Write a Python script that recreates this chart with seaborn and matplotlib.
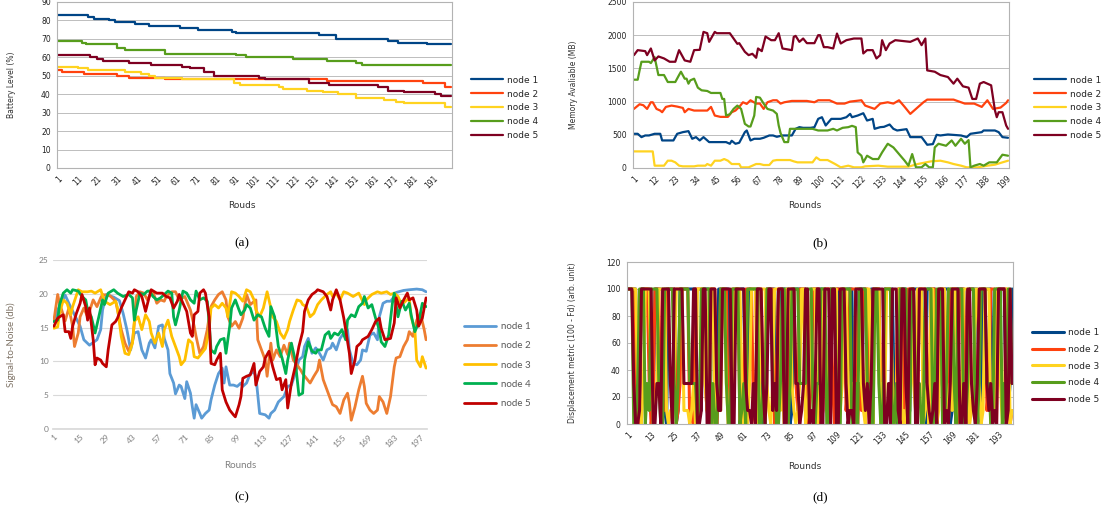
import numpy as np
import pandas as pd
import matplotlib
matplotlib.use('Agg')
import matplotlib.pyplot as plt
from matplotlib.ticker import MultipleLocator, FixedLocator
import seaborn as sns

nodes = ['node 1', 'node 2', 'node 3', 'node 4', 'node 5']

# (a) battery level: (round, level) at every round where the level steps down
battery_node1 = [(1, 83), (16, 82), (19, 81), (27, 80), (30, 79), (40, 78), (47, 77), (63, 76),
                 (72, 75), (89, 74), (91, 73), (133, 72), (142, 70), (168, 69), (173, 68),
                 (188, 67), (200, 67)]
battery_node2 = [(1, 53), (3, 52), (14, 51), (31, 50), (37, 49), (55, 48), (137, 47), (186, 46),
                 (197, 44), (200, 44)]
battery_node3 = [(1, 55), (11, 54), (16, 53), (35, 52), (43, 51), (47, 50), (50, 49), (64, 48),
                 (90, 46), (93, 45), (113, 44), (115, 43), (127, 42), (135, 41), (143, 40),
                 (152, 38), (166, 37), (172, 36), (176, 35), (197, 33), (200, 33)]
battery_node4 = [(1, 69), (13, 68), (15, 67), (31, 65), (35, 64), (55, 62), (91, 61), (96, 60),
                 (120, 59), (137, 58), (152, 57), (155, 56), (200, 56)]
battery_node5 = [(1, 61), (17, 60), (21, 59), (24, 58), (37, 57), (48, 56), (64, 55), (68, 54),
                 (75, 52), (80, 50), (103, 49), (106, 48), (128, 46), (138, 45), (163, 44),
                 (168, 42), (176, 41), (192, 40), (195, 39), (200, 39)]

# (b) memory available (MB)
mem_rounds1 = [1, 3, 5, 7, 9, 12, 15, 16, 22, 24,
               27, 30, 32, 34, 36, 38, 41, 45, 50, 52,
               53, 55, 57, 60, 61, 63, 65, 68, 70, 73,
               75, 77, 80, 85, 87, 89, 91, 95, 97, 99,
               101, 103, 106, 111, 114, 116, 117, 120, 123, 125,
               128, 129, 132, 134, 137, 139, 141, 146, 148, 154,
               157, 160, 162, 164, 168, 175, 178, 180, 186, 187,
               193, 195, 197, 200]
mem_node1 = [515, 515, 465, 490, 490, 515, 515, 415, 415, 515,
             540, 555, 440, 465, 415, 465, 390, 390, 390, 365,
             410, 365, 380, 540, 565, 415, 440, 440, 455, 490,
             490, 470, 490, 490, 590, 615, 605, 605, 615, 740,
             765, 640, 740, 740, 765, 815, 765, 790, 825, 715,
             740, 590, 615, 620, 655, 590, 565, 585, 465, 465,
             350, 360, 500, 490, 505, 490, 465, 515, 540, 565,
             565, 540, 465, 455]
mem_rounds2 = [1, 4, 6, 8, 10, 11, 13, 15, 16, 18,
               21, 24, 27, 28, 30, 33, 40, 42, 44, 47,
               51, 53, 55, 57, 59, 61, 63, 66, 68, 70,
               72, 75, 77, 79, 81, 85, 93, 97, 99, 105,
               109, 113, 116, 122, 124, 129, 132, 136, 139, 142,
               145, 148, 151, 155, 157, 171, 177, 182, 186, 189,
               192, 196, 199, 200]
mem_node2 = [890, 960, 945, 890, 990, 990, 890, 865, 840, 920,
             940, 925, 905, 840, 890, 865, 865, 920, 790, 770,
             770, 840, 865, 920, 990, 965, 1020, 970, 970, 890,
             990, 1020, 1020, 970, 990, 1010, 1010, 990, 1020, 1020,
             970, 970, 1000, 1020, 940, 890, 970, 990, 970, 1020,
             920, 815, 890, 990, 1030, 1030, 970, 970, 920, 1020,
             890, 910, 980, 1020]
mem_rounds3 = [1, 11, 12, 17, 19, 21, 23, 25, 27, 33,
               35, 39, 40, 42, 44, 47, 49, 51, 53, 57,
               58, 62, 64, 66, 68, 70, 73, 75, 77, 84,
               86, 88, 96, 98, 100, 104, 108, 111, 115, 118,
               122, 124, 131, 136, 147, 152, 159, 164, 168, 171,
               175, 178, 184, 189, 193, 197, 200]
mem_node3 = [250, 250, 35, 35, 110, 110, 85, 35, 25, 25,
             35, 35, 60, 35, 110, 110, 135, 110, 60, 60,
             10, 10, 35, 60, 60, 45, 45, 110, 120, 120,
             100, 85, 85, 160, 120, 120, 60, 10, 35, 10,
             10, 25, 35, 20, 20, 60, 100, 110, 85, 60,
             35, 10, 10, 35, 50, 85, 110]
mem_rounds4 = [1, 3, 4, 5, 9, 10, 12, 14, 17, 19,
               23, 25, 26, 28, 29, 30, 31, 33, 35, 37,
               40, 42, 47, 48, 49, 50, 52, 54, 56, 58,
               60, 62, 63, 65, 66, 68, 70, 72, 75, 77,
               78, 79, 81, 83, 84, 96, 99, 104, 107, 109,
               112, 115, 117, 119, 120, 122, 123, 125, 128, 131,
               133, 136, 139, 142, 145, 147, 149, 151, 154, 156,
               158, 160, 161, 163, 167, 170, 172, 175, 177, 179,
               180, 182, 185, 187, 190, 194, 197, 200]
mem_node4 = [1330, 1330, 1470, 1600, 1600, 1580, 1670, 1400, 1400, 1295,
             1295, 1400, 1450, 1345, 1345, 1270, 1320, 1345, 1210, 1170,
             1160, 1130, 1130, 1040, 1040, 790, 810, 890, 940, 890,
             665, 625, 625, 790, 1070, 1060, 970, 890, 865, 815,
             640, 525, 390, 390, 590, 590, 565, 565, 590, 565,
             605, 615, 635, 615, 235, 185, 85, 185, 135, 135,
             235, 365, 310, 210, 110, 35, 210, 10, 10, 60,
             10, 10, 310, 365, 335, 415, 335, 440, 365, 420,
             10, 35, 60, 35, 85, 85, 200, 185]
mem_rounds5 = [1, 3, 7, 8, 10, 12, 14, 17, 20, 23,
               25, 28, 31, 33, 36, 38, 40, 41, 44, 45,
               52, 54, 56, 57, 60, 62, 64, 66, 67, 69,
               71, 74, 76, 78, 80, 85, 86, 87, 89, 91,
               93, 97, 99, 100, 102, 104, 107, 109, 111, 114,
               118, 122, 123, 125, 128, 130, 132, 133, 135, 137,
               140, 148, 152, 154, 156, 157, 161, 164, 168, 171,
               173, 176, 179, 181, 183, 185, 187, 191, 193, 194,
               195, 197, 199, 200]
mem_node5 = [1700, 1775, 1760, 1700, 1800, 1620, 1680, 1650, 1600, 1600,
             1775, 1620, 1600, 1775, 1780, 2050, 2030, 1900, 2050, 2030,
             2030, 1950, 1870, 1880, 1750, 1700, 1720, 1660, 1800, 1760,
             1980, 1925, 1925, 2030, 1800, 1775, 1975, 1990, 1900, 1950,
             1880, 1880, 2000, 2000, 1820, 1820, 1800, 2025, 1875, 1925,
             1950, 1950, 1725, 1775, 1775, 1650, 1700, 1925, 1775, 1875,
             1925, 1900, 1950, 1850, 1950, 1470, 1450, 1400, 1370, 1270,
             1345, 1230, 1210, 1040, 1040, 1270, 1295, 1245, 870, 765,
             840, 840, 640, 590]

# (c) signal-to-noise (db): (round, value)
snr_node1 = [(1, 15.9), (3, 17.6), (7, 19.8), (10, 18.0), (15, 15.2), (17, 13.2), (20, 12.4), (24, 13.2), (26, 14.7), (27, 17.6),
             (29, 19.9), (33, 19.5), (36, 19.0), (38, 17.1), (40, 14.7), (42, 11.7), (44, 14.2), (46, 14.4), (48, 11.7), (50, 10.5),
             (52, 12.7), (53, 13.2), (55, 12.0), (57, 15.2), (59, 15.4), (60, 13.4), (62, 11.7), (63, 8.2), (65, 6.8), (66, 5.2),
             (68, 6.5), (69, 6.3), (71, 4.5), (72, 7.0), (74, 5.3), (75, 3.3), (76, 1.6), (77, 3.6), (79, 2.3), (80, 1.6),
             (82, 2.3), (84, 2.8), (85, 4.3), (87, 6.5), (89, 8.2), (91, 9.0), (92, 6.8), (93, 9.2), (95, 6.5), (97, 6.5),
             (99, 6.3), (101, 6.8), (102, 6.3), (104, 6.8), (106, 8.2), (108, 8.4), (109, 7.8), (111, 2.3), (114, 2.1), (116, 1.6),
             (117, 2.3), (119, 2.8), (121, 4.0), (124, 4.8), (126, 6.3), (128, 6.5), (130, 8.2), (132, 10.2), (134, 10.7), (135, 12.2),
             (137, 13.4), (139, 11.2), (141, 12.0), (143, 11.2), (145, 10.2), (147, 11.7), (149, 12.0), (150, 12.7), (152, 11.7), (154, 13.4),
             (156, 14.2), (158, 14.7), (159, 11.7), (161, 9.7), (163, 9.5), (165, 10.2), (166, 11.7), (168, 11.5), (170, 13.9), (172, 14.2),
             (174, 13.2), (175, 16.6), (177, 18.6), (179, 18.9), (181, 18.9), (183, 19.6), (184, 20.2), (188, 20.5), (191, 20.6), (195, 20.7),
             (198, 20.6), (200, 20.3)]
snr_node2 = [(1, 16.1), (3, 19.9), (4, 18.6), (7, 16.0), (9, 17.9), (11, 15.2), (12, 12.2), (14, 14.2), (15, 16.6), (17, 17.9),
             (19, 16.6), (22, 19.1), (24, 18.1), (26, 19.4), (27, 19.9), (31, 19.7), (34, 18.9), (35, 17.6), (37, 14.7), (39, 12.7),
             (41, 11.5), (43, 12.9), (44, 15.7), (45, 19.6), (47, 20.3), (49, 20.1), (51, 19.1), (52, 19.6), (54, 20.3), (56, 18.6),
             (58, 19.1), (60, 18.9), (61, 19.6), (64, 20.3), (66, 20.3), (68, 19.1), (71, 19.6), (74, 17.6), (76, 15.2), (77, 13.7),
             (79, 11.2), (81, 12.2), (83, 14.7), (84, 16.6), (85, 18.1), (87, 19.1), (89, 19.9), (91, 20.3), (93, 19.1), (94, 16.6),
             (96, 15.2), (98, 15.9), (100, 14.9), (102, 16.4), (104, 19.9), (106, 18.4), (109, 19.1), (110, 13.2), (112, 11.7), (114, 10.2),
             (115, 7.8), (117, 12.7), (118, 10.2), (120, 11.7), (122, 10.7), (124, 12.4), (126, 11.0), (127, 12.7), (129, 10.2), (131, 9.5),
             (133, 8.7), (134, 8.2), (136, 7.5), (138, 6.8), (140, 7.8), (142, 8.7), (143, 10.2), (145, 7.3), (147, 5.8), (149, 4.3),
             (150, 3.6), (152, 3.3), (154, 2.3), (156, 4.3), (158, 5.3), (159, 3.8), (160, 1.3), (162, 3.3), (164, 5.8), (166, 7.8),
             (167, 6.3), (168, 3.8), (170, 2.8), (172, 2.3), (174, 2.8), (175, 4.8), (177, 4.0), (179, 2.3), (181, 4.8), (183, 9.2),
             (184, 10.5), (186, 10.7), (188, 12.2), (190, 13.2), (191, 14.4), (193, 13.7), (195, 16.1), (197, 17.1), (199, 14.7), (200, 13.2)]
snr_node3 = [(1, 14.9), (3, 15.1), (4, 17.1), (6, 19.1), (8, 18.6), (10, 16.9), (11, 18.1), (14, 20.6), (16, 20.3), (19, 20.3),
             (21, 20.4), (23, 20.1), (26, 20.6), (28, 18.9), (31, 18.4), (34, 18.9), (35, 17.9), (37, 13.7), (39, 11.2), (41, 11.0),
             (43, 12.7), (44, 15.9), (46, 16.6), (48, 14.7), (50, 16.9), (52, 15.9), (53, 14.2), (55, 12.7), (57, 14.2), (59, 12.2),
             (60, 14.7), (62, 16.1), (64, 13.7), (66, 12.2), (68, 10.7), (69, 9.5), (71, 10.2), (73, 13.2), (75, 12.7), (76, 10.7),
             (78, 10.5), (80, 11.2), (82, 11.9), (84, 14.7), (85, 17.9), (87, 18.4), (89, 17.9), (91, 18.6), (93, 17.9), (94, 16.6),
             (96, 20.3), (98, 20.1), (100, 19.6), (102, 18.9), (104, 20.6), (106, 20.3), (108, 19.1), (109, 17.6), (111, 16.6), (113, 17.9),
             (115, 20.3), (117, 17.9), (118, 16.6), (120, 15.9), (122, 14.2), (124, 13.4), (126, 14.7), (127, 15.9), (129, 17.6), (131, 19.1),
             (133, 18.9), (134, 18.4), (136, 18.1), (138, 16.6), (140, 17.1), (142, 18.4), (144, 19.1), (147, 19.9), (149, 20.3), (150, 19.6),
             (152, 20.1), (154, 19.1), (156, 20.3), (158, 20.1), (161, 19.6), (164, 20.1), (167, 18.4), (168, 19.1), (171, 19.9), (174, 20.3),
             (176, 20.1), (179, 20.3), (181, 19.9), (183, 20.1), (185, 19.6), (187, 18.4), (189, 18.9), (191, 19.4), (192, 16.6), (194, 14.7),
             (195, 10.2), (197, 9.2), (198, 10.7), (200, 9.0)]
snr_node4 = [(1, 15.9), (3, 16.1), (4, 18.4), (6, 20.1), (8, 20.6), (10, 20.1), (11, 20.6), (14, 20.4), (16, 19.6), (18, 19.1),
             (19, 17.6), (21, 16.6), (23, 14.2), (25, 16.6), (27, 19.1), (28, 18.4), (30, 20.1), (33, 20.6), (35, 20.1), (38, 19.6),
             (41, 19.9), (43, 19.4), (44, 16.1), (45, 17.6), (47, 20.1), (49, 19.9), (51, 20.4), (52, 20.4), (54, 19.6), (56, 19.1),
             (58, 19.4), (60, 19.9), (62, 20.4), (64, 20.1), (65, 16.6), (66, 15.4), (68, 17.6), (70, 20.4), (72, 20.1), (74, 19.1),
             (76, 18.6), (77, 20.4), (79, 19.1), (81, 19.4), (83, 18.9), (84, 15.7), (85, 11.7), (87, 11.2), (88, 12.2), (90, 13.2),
             (92, 13.4), (93, 11.2), (95, 15.2), (96, 17.9), (98, 19.1), (100, 17.6), (101, 16.9), (103, 17.6), (104, 18.4), (106, 17.9),
             (108, 16.1), (110, 16.9), (112, 16.6), (114, 14.9), (116, 13.7), (117, 18.1), (119, 16.6), (121, 12.2), (123, 10.5), (125, 8.2),
             (126, 10.2), (128, 12.7), (130, 10.2), (132, 5.0), (134, 5.3), (135, 10.2), (137, 12.9), (139, 11.5), (141, 11.2), (142, 11.7),
             (144, 11.7), (146, 13.9), (148, 14.4), (149, 13.4), (151, 14.2), (153, 13.9), (155, 14.7), (157, 13.2), (158, 16.1), (160, 16.9),
             (162, 16.6), (164, 18.1), (166, 18.6), (167, 19.6), (169, 17.9), (171, 18.4), (173, 16.4), (175, 14.7), (176, 12.9), (178, 12.2),
             (180, 13.9), (182, 18.6), (183, 20.1), (185, 16.6), (187, 18.9), (189, 17.6), (191, 18.6), (192, 16.9), (194, 14.4), (196, 15.7),
             (198, 18.6), (200, 18.1)]
snr_node5 = [(1, 15.2), (3, 16.4), (4, 16.6), (6, 16.9), (7, 14.4), (9, 14.4), (10, 13.4), (11, 15.2), (13, 17.1), (15, 18.6),
             (16, 19.9), (18, 18.1), (19, 16.1), (20, 17.9), (22, 13.2), (23, 9.5), (24, 10.5), (26, 10.2), (27, 9.7), (29, 9.2),
             (30, 11.7), (32, 15.4), (34, 15.9), (35, 16.4), (37, 17.9), (39, 19.1), (41, 20.3), (43, 20.1), (44, 20.6), (46, 20.3),
             (48, 19.6), (50, 17.4), (52, 19.6), (53, 20.6), (56, 20.1), (59, 20.1), (61, 19.6), (63, 19.4), (65, 17.9), (67, 18.9),
             (68, 19.9), (70, 18.6), (72, 17.4), (74, 14.2), (75, 13.7), (76, 16.9), (78, 17.4), (79, 20.1), (81, 20.6), (82, 20.1),
             (84, 16.6), (85, 9.7), (87, 9.5), (88, 10.2), (90, 11.2), (91, 5.8), (93, 4.0), (95, 2.8), (97, 2.1), (98, 1.8),
             (100, 3.6), (101, 4.8), (102, 7.5), (104, 7.8), (106, 8.0), (108, 9.7), (109, 6.5), (111, 8.5), (113, 9.2), (114, 10.5),
             (116, 11.5), (118, 9.2), (120, 7.3), (122, 7.5), (123, 5.8), (125, 7.3), (126, 3.1), (128, 6.8), (130, 9.2), (132, 12.2),
             (134, 14.4), (135, 17.4), (137, 19.1), (139, 19.9), (141, 20.3), (142, 20.6), (145, 20.3), (147, 19.6), (149, 17.6), (150, 19.1),
             (152, 20.6), (154, 19.1), (156, 16.4), (157, 14.7), (159, 11.2), (160, 8.2), (162, 10.2), (163, 12.2), (165, 12.7), (166, 13.2),
             (169, 13.7), (171, 14.7), (173, 15.9), (175, 16.4), (176, 14.9), (178, 13.2), (181, 13.4), (183, 15.7), (184, 19.4), (186, 17.9),
             (188, 19.1), (190, 20.1), (191, 19.1), (193, 19.4), (195, 17.6), (196, 15.2), (198, 16.4), (200, 19.4)]

# (d) displacement metric, one value per round (1..200)
disp_node1 = [100, 100, 100, 100, 100, 0, 10, 100, 100, 100, 100, 100, 10, 0, 100, 100, 100, 100, 100, 10,
              0, 100, 100, 100, 100, 0, 10, 100, 100, 100, 100, 100, 100, 100, 100, 100, 10, 10, 10, 100,
              100, 100, 100, 100, 100, 10, 0, 100, 100, 100, 100, 100, 100, 0, 30, 100, 100, 100, 100, 100,
              100, 0, 10, 100, 100, 100, 100, 100, 100, 10, 0, 30, 100, 100, 100, 100, 100, 10, 30, 100,
              100, 100, 100, 100, 0, 10, 100, 100, 100, 100, 100, 100, 100, 0, 10, 100, 100, 100, 100, 100,
              100, 100, 100, 30, 0, 100, 100, 100, 100, 100, 10, 100, 100, 100, 100, 100, 100, 0, 10, 100,
              100, 100, 100, 100, 10, 30, 100, 100, 100, 100, 100, 0, 10, 100, 100, 100, 100, 100, 10, 0,
              100, 100, 100, 100, 100, 0, 10, 100, 100, 100, 100, 100, 100, 30, 0, 100, 100, 100, 100, 100,
              10, 30, 100, 100, 100, 100, 100, 0, 10, 100, 100, 100, 100, 100, 100, 0, 30, 100, 100, 100,
              100, 100, 0, 10, 100, 100, 100, 100, 100, 10, 30, 100, 100, 100, 100, 100, 0, 10, 30, 100]
disp_node2 = [100, 100, 100, 100, 0, 10, 0, 100, 100, 100, 100, 30, 0, 10, 100, 100, 100, 0, 30, 10,
              100, 100, 100, 100, 100, 0, 10, 30, 100, 100, 100, 100, 0, 10, 0, 100, 100, 100, 100, 100,
              30, 10, 0, 100, 100, 100, 0, 30, 100, 100, 100, 100, 0, 10, 100, 100, 100, 100, 0, 10,
              30, 100, 100, 100, 100, 10, 0, 100, 100, 100, 30, 10, 100, 100, 100, 100, 0, 30, 100, 100,
              100, 10, 30, 0, 100, 100, 100, 30, 10, 100, 100, 100, 100, 0, 10, 30, 100, 100, 100, 100,
              0, 10, 100, 100, 100, 100, 30, 0, 100, 100, 100, 100, 100, 10, 30, 100, 100, 100, 100, 0,
              30, 10, 100, 100, 100, 0, 10, 100, 100, 100, 100, 30, 0, 100, 100, 100, 100, 10, 0, 30,
              100, 100, 100, 0, 30, 100, 100, 100, 100, 10, 0, 100, 100, 100, 100, 30, 10, 100, 100, 100,
              0, 30, 100, 100, 100, 10, 0, 100, 100, 100, 100, 30, 100, 100, 100, 0, 10, 100, 100, 100,
              30, 0, 100, 100, 100, 100, 10, 30, 100, 100, 100, 0, 100, 100, 100, 100, 100, 30, 0, 10]
disp_node3 = [100, 100, 100, 100, 100, 30, 10, 0, 30, 100, 100, 100, 30, 0, 10, 30, 100, 100, 100, 100,
              10, 0, 10, 10, 30, 100, 100, 100, 100, 10, 10, 10, 0, 10, 30, 0, 100, 100, 100, 100,
              30, 10, 100, 100, 100, 0, 10, 30, 10, 100, 100, 30, 0, 0, 10, 100, 100, 100, 100, 30,
              0, 10, 0, 30, 100, 100, 100, 0, 10, 100, 100, 100, 30, 10, 0, 30, 100, 100, 100, 10,
              30, 0, 100, 100, 100, 30, 10, 0, 10, 30, 100, 100, 0, 10, 30, 100, 100, 100, 0, 30,
              10, 100, 100, 30, 0, 30, 100, 100, 100, 0, 10, 30, 100, 100, 30, 10, 30, 0, 100, 100,
              100, 30, 10, 0, 100, 100, 30, 0, 100, 100, 100, 0, 30, 10, 100, 100, 100, 30, 0, 10,
              100, 100, 0, 10, 0, 30, 100, 100, 30, 10, 100, 100, 100, 0, 10, 30, 0, 100, 100, 30,
              0, 10, 100, 100, 100, 30, 0, 30, 10, 100, 100, 0, 10, 30, 100, 100, 100, 0, 10, 30,
              100, 100, 30, 0, 10, 100, 100, 100, 0, 30, 10, 100, 100, 30, 0, 10, 100, 100, 0, 10]
disp_node4 = [100, 100, 100, 0, 0, 30, 100, 100, 100, 0, 30, 10, 100, 100, 100, 100, 30, 0, 0, 100,
              100, 100, 100, 100, 30, 0, 30, 100, 100, 100, 100, 100, 30, 30, 30, 30, 0, 0, 100, 100,
              100, 100, 100, 0, 30, 0, 0, 30, 100, 100, 100, 30, 0, 0, 100, 100, 100, 100, 0, 10,
              30, 0, 100, 100, 100, 100, 100, 100, 0, 0, 30, 0, 100, 100, 100, 30, 30, 0, 0, 30,
              100, 100, 0, 0, 30, 100, 100, 100, 100, 30, 30, 30, 30, 100, 100, 100, 0, 0, 30, 30,
              100, 100, 100, 0, 0, 100, 100, 100, 30, 0, 0, 100, 100, 100, 100, 100, 0, 0, 30, 0,
              100, 100, 100, 100, 30, 30, 0, 0, 100, 100, 30, 0, 0, 100, 100, 100, 100, 0, 0, 30,
              0, 100, 100, 100, 100, 0, 0, 100, 100, 30, 30, 30, 0, 0, 100, 100, 100, 100, 0, 30,
              100, 100, 100, 0, 0, 30, 100, 100, 100, 30, 0, 100, 100, 100, 0, 0, 30, 100, 100, 100,
              0, 0, 30, 100, 100, 100, 30, 30, 0, 0, 100, 100, 100, 100, 0, 30, 0, 100, 100, 30]
disp_node5 = [100, 100, 100, 30, 0, 0, 10, 100, 100, 100, 100, 100, 100, 0, 0, 30, 30, 0, 100, 100,
              100, 100, 30, 0, 100, 100, 100, 100, 100, 30, 30, 30, 30, 30, 100, 100, 0, 0, 10, 100,
              100, 0, 0, 100, 100, 100, 30, 10, 10, 100, 100, 100, 100, 100, 0, 0, 100, 100, 100, 100,
              100, 30, 10, 10, 0, 30, 0, 100, 100, 100, 30, 0, 30, 100, 100, 10, 30, 10, 100, 100,
              100, 0, 0, 100, 100, 100, 100, 30, 30, 0, 10, 30, 100, 100, 0, 10, 0, 30, 100, 100,
              0, 0, 100, 100, 100, 0, 100, 100, 0, 0, 100, 100, 100, 30, 0, 10, 10, 0, 100, 100,
              100, 100, 30, 10, 30, 0, 30, 100, 100, 100, 100, 100, 100, 0, 0, 30, 0, 100, 100, 100,
              10, 0, 100, 100, 30, 0, 100, 100, 100, 0, 0, 100, 100, 100, 100, 30, 10, 0, 10, 30,
              0, 100, 100, 100, 0, 10, 0, 30, 100, 100, 100, 100, 0, 0, 30, 0, 100, 100, 30, 10,
              0, 30, 100, 100, 100, 100, 30, 10, 30, 0, 10, 0, 100, 100, 100, 100, 0, 10, 100, 30]

sns.set_theme(style='white')
plt.rcParams['font.family'] = ['DejaVu Sans']

lo_colors = ['#004586', '#ff420e', '#ffd320', '#579d1c', '#7e0021']
xl_colors = ['#5b9bd5', '#ed7d31', '#ffc000', '#00b050', '#c00000']
grid_grey = '#b3b3b3'


def pairs_frame(series):
    frames = []
    for name, pts in zip(nodes, series):
        df = pd.DataFrame(pts, columns=['round', 'value'])
        df['node'] = name
        frames.append(df)
    return pd.concat(frames, ignore_index=True)


def lists_frame(xs, ys):
    frames = []
    for name, x, y in zip(nodes, xs, ys):
        frames.append(pd.DataFrame({'round': x, 'value': y, 'node': name}))
    return pd.concat(frames, ignore_index=True)


def office_style(ax, ymax, ystep, xticks, xlabel, ylabel, xlab_pos, ylab_x):
    ax.set_xlim(0.5, 200.5)
    ax.set_ylim(0, ymax)
    ax.yaxis.set_major_locator(MultipleLocator(ystep))
    ax.set_xticks(xticks)
    ax.set_xticklabels([str(t) for t in xticks])
    ax.xaxis.set_minor_locator(FixedLocator(np.arange(0.5, 201, 1)))
    ax.grid(axis='y', color=grid_grey, lw=0.6)
    for sp in ax.spines.values():
        sp.set_color(grid_grey)
        sp.set_linewidth(0.8)
    ax.tick_params(axis='both', which='both', direction='out', length=3,
                   width=0.5, color=grid_grey, labelsize=5.5, pad=1.5, labelcolor='#222222')
    ax.tick_params(axis='y', which='minor', length=0)
    plt.setp(ax.get_xticklabels(), rotation=45, ha='right', rotation_mode='anchor')
    ax.set_xlabel(xlabel, fontsize=6.5, color='#333333')
    ax.set_ylabel(ylabel, fontsize=5.5, color='#333333')
    ax.xaxis.set_label_coords(*xlab_pos)
    ax.yaxis.set_label_coords(ylab_x, 0.5)


def office_legend(ax, x, y, spacing):
    ax.legend(ax.get_lines()[:5], nodes, loc='center left', bbox_to_anchor=(x, y),
              bbox_transform=ax.figure.transFigure, frameon=False, fontsize=6.5,
              handlelength=3.6, handletextpad=0.4, labelspacing=spacing, borderpad=0)


fig = plt.figure(figsize=(11.04, 5.17), dpi=100)

# (a) battery
ax_a = fig.add_axes([57 / 1104, 1 - 168 / 517, 395 / 1104, 166 / 517])
bat = pairs_frame([battery_node1, battery_node2, battery_node3, battery_node4, battery_node5])
sns.lineplot(data=bat, x='round', y='value', hue='node', palette=lo_colors, estimator=None,
             drawstyle='steps-post', lw=1.6, legend=False, ax=ax_a)
office_style(ax_a, 90, 10, list(range(1, 200, 10)), 'Rouds', 'Battery Level (%)',
             (0.468, -0.2), -0.105)
office_legend(ax_a, 466 / 1104, 1 - 108 / 517, 0.55)

# (b) memory
ax_b = fig.add_axes([633 / 1104, 1 - 168 / 517, 376 / 1104, 166 / 517])
mem = lists_frame([mem_rounds1, mem_rounds2, mem_rounds3, mem_rounds4, mem_rounds5],
                  [mem_node1, mem_node2, mem_node3, mem_node4, mem_node5])
sns.lineplot(data=mem, x='round', y='value', hue='node', palette=lo_colors, estimator=None,
             lw=1.6, legend=False, ax=ax_b)
office_style(ax_b, 2500, 500, list(range(1, 201, 11)), 'Rounds', 'Memory Avaliable (MB)',
             (0.457, -0.2), -0.145)
office_legend(ax_b, 1029 / 1104, 1 - 108 / 517, 0.55)

# (c) signal-to-noise, Excel look
ax_c = fig.add_axes([53 / 1104, 1 - 429 / 517, 374 / 1104, 169 / 517])
snr = pairs_frame([snr_node1, snr_node2, snr_node3, snr_node4, snr_node5])
sns.lineplot(data=snr, x='round', y='value', hue='node', palette=xl_colors, estimator=None,
             lw=2.0, legend=False, ax=ax_c)
ax_c.set_xlim(0.5, 200.5)
ax_c.set_ylim(0, 25)
ax_c.yaxis.set_major_locator(MultipleLocator(5))
c_ticks = list(range(1, 201, 14))
ax_c.set_xticks(c_ticks)
ax_c.set_xticklabels([str(t) for t in c_ticks])
ax_c.grid(axis='y', color='#d9d9d9', lw=0.8)
for name, sp in ax_c.spines.items():
    sp.set_visible(name == 'bottom')
ax_c.spines['bottom'].set_color('#d9d9d9')
ax_c.tick_params(axis='both', length=0, labelsize=6, labelcolor='#7f7f7f', pad=3)
for lab in ax_c.get_xticklabels() + ax_c.get_yticklabels():
    lab.set_family(['Lato', 'DejaVu Sans'])
plt.setp(ax_c.get_xticklabels(), rotation=45, ha='right', rotation_mode='anchor')
ax_c.set_xlabel('Rounds', fontsize=7, color='#7f7f7f', family=['Lato', 'DejaVu Sans'])
ax_c.set_ylabel('Signal-to-Noise (db)', fontsize=7, color='#7f7366', family=['Lato', 'DejaVu Sans'])
ax_c.xaxis.set_label_coords(0.5, -0.19)
ax_c.yaxis.set_label_coords(-0.1, 0.5)
leg_c = ax_c.legend(ax_c.get_lines()[:5], nodes, loc='center left', bbox_to_anchor=(459 / 1104, 1 - 365 / 517),
                    bbox_transform=fig.transFigure, frameon=False, fontsize=7,
                    handlelength=3.3, handletextpad=0.5, labelspacing=1.05, borderpad=0,
                    prop={'family': ['Lato', 'DejaVu Sans'], 'size': 7})
for t in leg_c.get_texts():
    t.set_color('#595959')

# (d) displacement
ax_d = fig.add_axes([627 / 1104, 1 - 424 / 517, 386 / 1104, 162 / 517])
rounds_d = list(range(1, 201))
disp = lists_frame([rounds_d] * 5, [disp_node1, disp_node2, disp_node3, disp_node4, disp_node5])
sns.lineplot(data=disp, x='round', y='value', hue='node', palette=lo_colors, estimator=None,
             lw=2.2, legend=False, ax=ax_d)
office_style(ax_d, 120, 20, list(range(1, 201, 12)), 'Rounds',
             'Displacement metric (100 - Fd) (arb. unit)', (0.461, -0.235), -0.13)
office_legend(ax_d, 1027 / 1104, 1 - 366 / 517, 0.85)

# panel captions
for lab, x, y in [('(a)', 242, 243), ('(b)', 820, 243), ('(c)', 242, 497), ('(d)', 820, 497)]:
    fig.text(x / 1104, 1 - y / 517, lab, ha='center', va='center', fontsize=9.5,
             family=['Liberation Serif', 'DejaVu Serif'], color='black')

fig.savefig('out.png', dpi=100)
